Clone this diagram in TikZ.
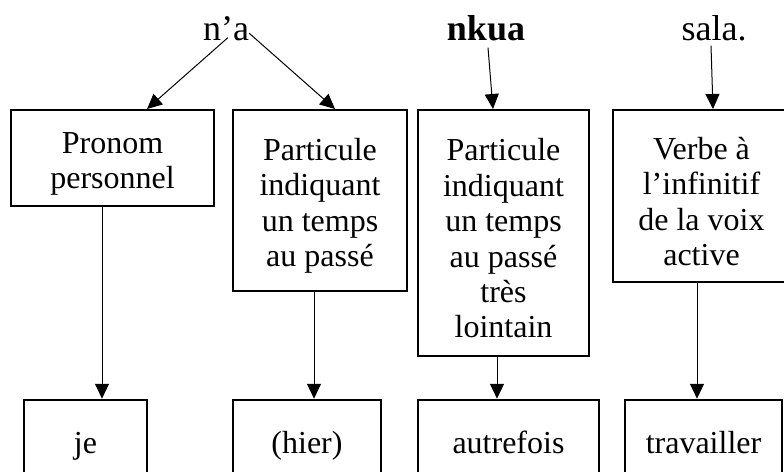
\documentclass[tikz,border=0pt]{standalone}
\usepackage{fontspec}
\setmainfont{Liberation Serif}
\usetikzlibrary{arrows.meta}

\newcommand{\obenrand}{\rule{0pt}{33pt}}

\tikzset{
  wort/.style={inner sep=0pt, anchor=base, font=\fontsize{36}{40}\selectfont},
  kasten/.style={draw, line width=2.5pt, inner sep=0pt, align=center},
  unten/.style={kasten, minimum height=92pt, text height=22pt, text depth=7pt},
  pfeil/.style={-{Triangle[length=15pt,width=14pt]}, line width=1pt}
}

\begin{document}
\begin{tikzpicture}[x=1pt, y=-1pt, every node/.style={font=\fontsize{32}{35.4}\selectfont}]
        \useasboundingbox (0,0) rectangle (784,471);
        \clip (0,0) rectangle (784,471);

        % Woerter
        \node[wort] (na)   at (226,40) {n’a};
        \node[wort] (nkua) at (486,40) {\textbf{nkua}};
        \node[wort] (sala) at (714,40) {sala.};

        % obere Kaesten
        \node[kasten, minimum width=203pt, minimum height=96pt]  (pron)  at (112.5,158) {\obenrand Pronom\\personnel};
        \node[kasten, minimum width=174pt, minimum height=181pt] (part)  at (320,200.5) {\obenrand Particule\\indiquant\\un temps\\au passé};
        \node[kasten, minimum width=171pt, minimum height=246pt] (partl) at (503.5,233) {\obenrand Particule\\indiquant\\un temps\\au passé\\très\\lointain};
        \node[kasten, minimum width=177pt, minimum height=172pt] (verbe) at (701.5,196) {\obenrand Verbe à\\l’infinitif\\de la voix\\active};

        % untere Kaesten
        \node[unten, minimum width=123pt] (je)   at (85.5,446)  {je};
        \node[unten, minimum width=148pt] (hier) at (307,446)   {(hier)};
        \node[unten, minimum width=181pt] (autr) at (508.5,446) {autrefois};
        \node[unten, minimum width=157pt] (trav) at (703.5,446) {travailler};

        % Pfeilspitzen oben
        \coordinate (t1) at (147,109);
        \coordinate (t2) at (335,109);
        \coordinate (t3) at (493,109);
        \coordinate (t4) at (713,109);

        % senkrechte Linien
        \coordinate (d1) at (102,0);
        \coordinate (d2) at (314,0);
        \coordinate (d3) at (497,0);
        \coordinate (d4) at (697,0);

        % Pfeile von den Woertern
        \draw[pfeil] ([xshift=2pt, yshift=3pt]na.south) -- (t1);
        \draw[pfeil] ([yshift=-5pt]na.east) -- (t2);
        \draw[pfeil] ([xshift=2pt, yshift=-7pt]nkua.south) -- (t3);
        \draw[pfeil] ([xshift=-3pt, yshift=-5pt]sala.south) -- (t4);

        % Pfeile nach unten
        \draw[pfeil] (d1 |- pron.south)  -- (d1 |- je.north);
        \draw[pfeil] (d2 |- part.south)  -- (d2 |- hier.north);
        \draw[pfeil] (d3 |- partl.south) -- (d3 |- autr.north);
        \draw[pfeil] (d4 |- verbe.south) -- (d4 |- trav.north);
    \end{tikzpicture}
\end{document}
